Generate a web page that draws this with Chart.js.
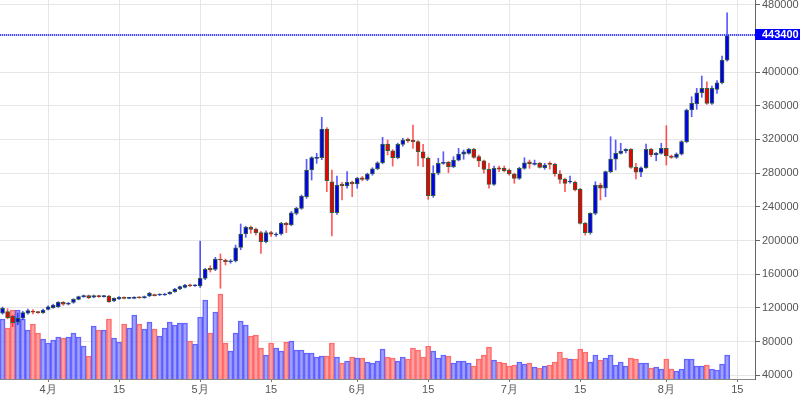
<!DOCTYPE html>
<html>
<head>
<meta charset="utf-8">
<script src="https://cdn.jsdelivr.net/npm/chart.js@4.4.0/dist/chart.umd.min.js"></script>
<style>
  html, body { margin: 0; padding: 0; background: #fff; }
  #wrap { position: relative; width: 800px; height: 398px; }
</style>
</head>
<body>
<div id="wrap"><canvas id="btcDaily"></canvas></div>
<script>
  "use strict";

  // daily candles, 2017-03-23 .. 2017-08-13 (JPY)
  var firstDay = new Date(2017, 2, 23);
  var slotCount = 149; // axis runs a few empty days past the last candle

  var openData = [
    113600, 115500, 110400, 103000, 107700, 113600, 116300, 115100, 114300, 118300,
    120200, 121400, 126600, 124300, 126600, 130200, 133300, 134500, 132600, 134100,
    133300, 134100, 128500, 130600, 132100, 131400, 131400, 132600, 132100, 134100,
    135300, 135300, 135300, 136500, 139200, 142400, 144400, 146800, 146300, 146000,
    155100, 167000, 165800, 177700, 176900, 174800, 175700, 191900, 207700, 215700,
    213700, 209300, 198600, 209300, 206500, 207700, 220400, 218400, 232200, 238200,
    252000, 283700, 297500, 298300, 332300, 269800, 233000, 267100, 264700, 269100,
    267100, 274500, 272600, 278900, 285200, 292300, 314500, 306600, 298300, 314200,
    320100, 319300, 317300, 305400, 297600, 253200, 279800, 291600, 292800, 287600,
    295500, 302600, 303500, 308200, 299500, 294700, 284500, 266700, 286400, 285700,
    283700, 278900, 273800, 285700, 293500, 290400, 291600, 286400, 291600, 290400,
    278900, 272600, 269500, 269100, 260800, 220400, 209300, 232200, 265900, 262000,
    281700, 296700, 303500, 306200, 308200, 286900, 281000, 286400, 308200, 301500,
    303500, 309400, 300300, 298700, 302600, 317300, 354900, 362000, 375400, 380600,
    362800, 379400, 387300, 414200
  ];
  var highData = [
    121000, 119000, 111500, 114000, 116000, 118500, 118000, 116000, 118500, 122500,
    124500, 127500, 127500, 126500, 131000, 134000, 135300, 135300, 135300, 135000,
    134800, 134800, 132000, 133300, 133000, 132600, 133300, 133300, 134100, 138500,
    136500, 136800, 137300, 139200, 143200, 146000, 148000, 148400, 147600, 199400,
    167000, 170000, 180000, 184000, 178000, 177300, 194500, 219600, 217000, 217200,
    214900, 211000, 211600, 211000, 209000, 221600, 221600, 234400, 239500, 254000,
    296400, 299500, 303500, 346200, 334000, 283700, 276500, 269000, 281700, 270500,
    275000, 276000, 280000, 286400, 293500, 322500, 319300, 308000, 315500, 321300,
    321600, 337000, 318500, 314200, 299000, 288800, 297600, 305400, 294000, 299500,
    309400, 307400, 309400, 309400, 301500, 295500, 291600, 288400, 288400, 288400,
    285000, 280000, 287000, 298300, 295500, 295500, 292800, 291600, 293500, 291600,
    283000, 274000, 276500, 270500, 262000, 221600, 233000, 269800, 268000, 282500,
    323200, 319300, 315400, 309000, 309000, 291600, 287500, 314500, 309400, 304500,
    315400, 336300, 301500, 304000, 318500, 356000, 370700, 380600, 395200, 388500,
    383400, 389700, 419000, 470400
  ];
  var lowData = [
    112500, 107000, 97700, 100000, 106500, 112500, 113000, 113500, 113500, 117500,
    119500, 120500, 123000, 123500, 125500, 129500, 132500, 131000, 132000, 132500,
    132800, 126500, 127500, 130000, 130800, 130800, 130800, 131400, 131400, 133300,
    134100, 134500, 134800, 136100, 138500, 141600, 143600, 145200, 145600, 144400,
    153500, 162500, 164200, 143300, 171000, 173000, 174500, 189000, 203800, 208500,
    206500, 184800, 197000, 205000, 205000, 206500, 209300, 217500, 230500, 237000,
    250000, 271800, 291600, 296000, 257900, 205300, 231000, 248100, 262000, 252000,
    262000, 270800, 271000, 277500, 284000, 291000, 301500, 288400, 297000, 312000,
    316500, 309400, 288400, 287600, 248900, 251300, 278000, 290500, 280500, 286500,
    294500, 296400, 302500, 297500, 287600, 279800, 262000, 265500, 281700, 281500,
    277500, 267900, 272500, 284500, 285700, 289500, 286000, 284500, 284800, 276500,
    267900, 257900, 268000, 259000, 219500, 206500, 207500, 230500, 248100, 252000,
    280500, 283700, 302500, 304000, 285700, 273000, 275700, 285500, 299500, 294700,
    302500, 289600, 297500, 297500, 301500, 316000, 346900, 355700, 370000, 361500,
    361500, 374700, 386000, 413000
  ];
  var closeData = [
    119500, 108400, 102400, 108000, 114300, 116700, 114800, 114300, 117500, 121400,
    123400, 126600, 124300, 125500, 130200, 133300, 134500, 132100, 134500, 133300,
    134100, 127400, 131400, 132600, 131400, 132100, 132600, 132100, 133300, 137300,
    134500, 136100, 136500, 138500, 142400, 145200, 147200, 146300, 146800, 155100,
    165800, 165000, 178000, 176900, 174800, 176000, 191400, 207700, 215700, 213300,
    209300, 198600, 209300, 207500, 207700, 220400, 218400, 233000, 238200, 252800,
    283700, 298300, 298300, 332300, 271000, 233000, 265900, 264700, 269100, 267100,
    273900, 272600, 278900, 285200, 292300, 314500, 306600, 298300, 314200, 319300,
    318500, 317300, 305400, 297600, 253200, 279800, 291600, 292800, 287600, 295500,
    302600, 305400, 308200, 298700, 294400, 284500, 266700, 285700, 284800, 282800,
    278900, 273800, 285700, 292300, 290800, 291600, 286900, 289600, 290400, 278900,
    272600, 267900, 270600, 260000, 220400, 209300, 232200, 265900, 262000, 281700,
    296700, 303500, 306200, 308200, 286900, 281000, 286400, 308200, 301500, 303500,
    309400, 300300, 298700, 302600, 317300, 354900, 362800, 375400, 380600, 362800,
    380600, 387300, 414200, 443400
  ];
  // volume bars (no axis shown, relative units)
  var volumeData = [
    60, 51, 69, 69, 60, 49, 55, 46, 40, 36,
    39, 42, 41, 42, 46, 42, 33, 23, 53, 49,
    49, 60, 41, 37, 55, 51, 64, 55, 50, 57,
    50, 43, 51, 57, 54, 56, 56, 38, 35, 62,
    79, 46, 67, 85, 36, 28, 46, 58, 54, 43,
    44, 31, 24, 36, 31, 28, 37, 38, 29, 29,
    26, 26, 22, 23, 23, 36, 22, 16, 18, 22,
    21, 21, 17, 16, 18, 30, 22, 21, 18, 22,
    20, 31, 29, 22, 33, 28, 21, 24, 23, 16,
    18, 18, 16, 13, 20, 24, 32, 19, 17, 16,
    13, 14, 17, 15, 16, 12, 11, 13, 14, 17,
    27, 21, 20, 20, 30, 27, 17, 24, 19, 21,
    24, 14, 17, 13, 21, 20, 16, 16, 11, 12,
    10, 20, 10, 8, 10, 20, 20, 13, 13, 14,
    10, 9, 15, 24
  ];

  var priceTicks = [40000, 80000, 120000, 160000, 200000, 240000, 280000, 320000, 360000, 400000, 480000];
  var tickDays = ['4/1', '4/15', '5/1', '5/15', '6/1', '6/15', '7/1', '7/15', '8/1', '8/15'];
  var tickText = ['4月', '15', '5月', '15', '6月', '15', '7月', '15', '8月', '15'];

  var dayLabels = [];
  for (var i = 0; i < slotCount; i++) {
    var d = new Date(firstDay.getFullYear(), firstDay.getMonth(), firstDay.getDate() + i);
    dayLabels.push((d.getMonth() + 1) + '/' + d.getDate());
  }

  var wicks = [], bodies = [];
  for (var k = 0; k < openData.length; k++) {
    wicks.push([lowData[k], highData[k]]);
    bodies.push([openData[k], closeData[k]]);
  }

  function isUp(i) { return closeData[i] >= openData[i]; }

  var fontFamily = '"Liberation Sans", Arial, sans-serif';

  // dotted line + boxed label for the last close
  var lastPricePlugin = {
    id: 'lastPrice',
    afterDraw: function (chart) {
      var ctx = chart.ctx, area = chart.chartArea;
      var last = closeData[closeData.length - 1];
      var y = Math.round(chart.scales.y.getPixelForValue(last));
      ctx.save();
      // soft two-pixel dotted line, like the original's antialiased one
      for (var x = Math.round(area.left); x < area.right; x += 2) {
        ctx.fillStyle = 'rgba(40,40,255,0.85)';
        ctx.fillRect(x, y - 1, 1, 2);
        ctx.fillStyle = 'rgba(130,130,255,0.45)';
        ctx.fillRect(x + 1, y - 1, 1, 2);
      }
      ctx.fillStyle = '#0000ff';
      ctx.fillRect(area.right, y - 6, chart.width - area.right, 11);
      ctx.fillStyle = '#ffffff';
      ctx.font = 'bold 11px ' + fontFamily;
      ctx.textBaseline = 'middle';
      ctx.textAlign = 'left';
      ctx.fillText(String(last), area.right + 7, y);
      ctx.restore();
    }
  };

  var ctx = document.getElementById('btcDaily').getContext('2d');
  new Chart(ctx, {
    type: 'bar',
    data: {
      labels: dayLabels,
      datasets: [{
        label: 'body',
        data: bodies,
        yAxisID: 'y',
        grouped: false,
        order: 1,
        barThickness: 4,
        minBarLength: 1,
        borderSkipped: false,
        borderWidth: 1,
        borderColor: '#35603f',
        backgroundColor: function (c) { return isUp(c.dataIndex) ? '#0000ee' : '#ee0000'; }
      }, {
        label: 'wick',
        data: wicks,
        yAxisID: 'y',
        grouped: false,
        order: 2,
        barThickness: 1,
        borderWidth: 0,
        backgroundColor: function (c) { return isUp(c.dataIndex) ? 'rgba(0,0,255,0.65)' : 'rgba(255,0,0,0.65)'; }
      }, {
        label: 'volume',
        data: volumeData,
        yAxisID: 'yv',
        grouped: false,
        order: 3,
        barPercentage: 1,
        categoryPercentage: 1,
        borderWidth: 1,
        borderSkipped: 'start',
        borderColor: function (c) { return isUp(c.dataIndex) ? 'rgba(80,80,255,0.9)' : 'rgba(255,90,90,0.9)'; },
        backgroundColor: function (c) { return isUp(c.dataIndex) ? 'rgba(120,120,255,0.7)' : 'rgba(255,120,120,0.7)'; }
      }]
    },
    options: {
      responsive: true,
      maintainAspectRatio: false,
      devicePixelRatio: 1,
      animation: false,
      layout: { padding: 0 },
      plugins: {
        legend: { display: false },
        tooltip: { enabled: false }
      },
      scales: {
        x: {
          type: 'category',
          offset: true,
          grid: { offset: false, color: '#e6e6e6', lineWidth: 1, tickLength: 3, tickColor: '#777' },
          border: { color: '#888' },
          ticks: {
            autoSkip: false,
            maxRotation: 0,
            padding: 1,
            color: '#555',
            font: { size: 11, family: fontFamily },
            callback: function (value) {
              var pos = tickDays.indexOf(this.getLabelForValue(value));
              return pos >= 0 ? tickText[pos] : '';
            }
          },
          afterBuildTicks: function (scale) {
            scale.ticks = scale.ticks.filter(function (t) {
              return tickDays.indexOf(dayLabels[t.value]) >= 0;
            });
          },
          afterFit: function (scale) {
            scale.height = 19;
            scale.paddingLeft = 0;
            scale.paddingRight = 0;
          }
        },
        y: {
          position: 'right',
          min: 35600,
          max: 485500,
          grid: { color: '#e6e6e6', lineWidth: 1, tickLength: 5, tickColor: '#666' },
          border: { color: '#666' },
          ticks: {
            padding: 2,
            color: '#555',
            font: { size: 11, family: fontFamily },
            callback: function (value) { return String(value); }
          },
          afterBuildTicks: function (scale) {
            scale.ticks = priceTicks.map(function (v) { return { value: v }; });
          },
          afterFit: function (scale) {
            scale.width = 45;
            scale.paddingTop = 0;
            scale.paddingBottom = 0;
          }
        },
        yv: {
          display: false,
          min: 0,
          max: 379
        }
      }
    },
    plugins: [lastPricePlugin]
  });
</script>
</body>
</html>
